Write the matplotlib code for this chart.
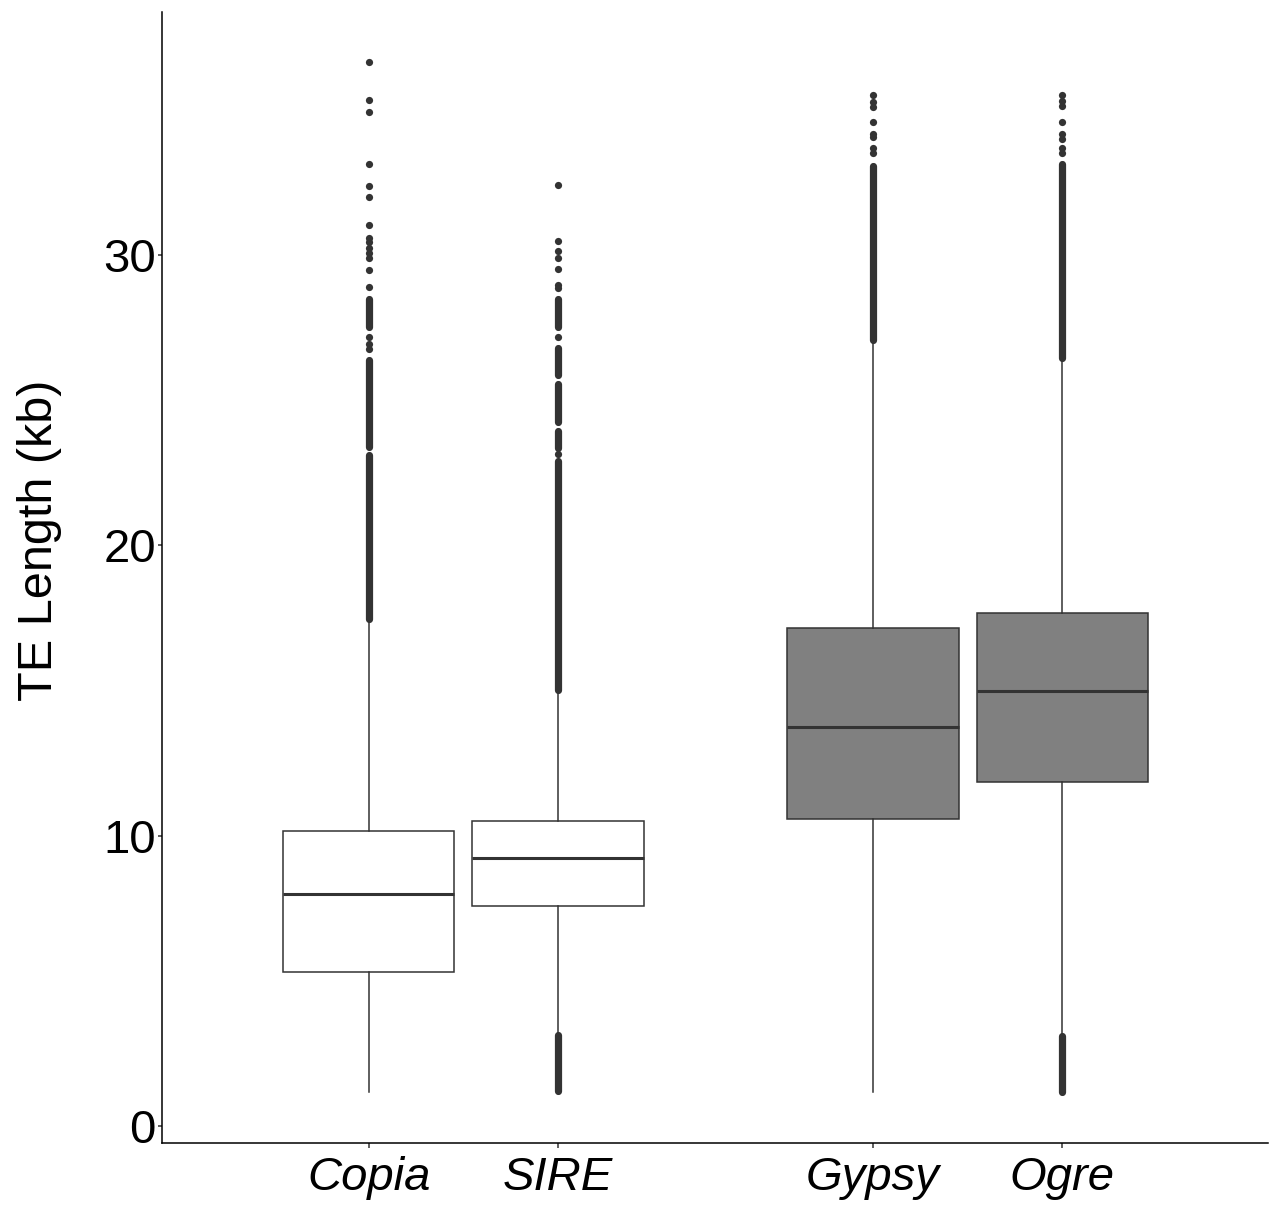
import numpy as np
import matplotlib.pyplot as plt

plt.rcParams['font.family'] = ['Liberation Sans', 'DejaVu Sans']

# familias de TE e posicoes no eixo x
familias = ['Copia', 'SIRE', 'Gypsy', 'Ogre']
posicoes = [1, 2, 3.665, 4.665]
cores = ['white', 'white', '#808080', '#808080']

# estatisticas das caixas (kb)
q1 = [5.32, 7.57, 10.58, 11.85]
mediana = [8.00, 9.24, 13.74, 14.98]
q3 = [10.16, 10.52, 17.15, 17.67]
bigode_inf = [1.16, 3.15, 1.17, 3.10]
bigode_sup = [17.46, 15.02, 27.08, 26.44]

# outliers isolados (kb)
outliers_copia = [36.64, 35.33, 34.92, 33.15, 32.39, 31.99, 31.04, 30.58, 30.45,
                  30.23, 30.06, 29.89, 29.49, 28.91, 27.19, 26.95, 26.75]
outliers_sire = [32.41, 30.49, 30.14, 29.89, 29.52, 28.97, 28.86, 27.19, 23.15]
outliers_gypsy = [35.51, 35.28, 35.09, 34.57, 34.17, 34.05, 33.68, 33.50]
outliers_ogre = [35.51, 35.32, 35.12, 34.57, 34.17, 34.00, 33.68, 33.50]

# trechos densos de outliers (inicio, fim) em kb
trechos_copia = [(17.46, 23.10), (23.40, 26.40), (27.52, 28.47)]
trechos_sire = [(1.20, 3.15), (15.02, 22.90), (23.35, 23.95), (24.25, 25.55),
                (25.85, 26.80), (27.52, 28.47)]
trechos_gypsy = [(27.08, 33.06)]
trechos_ogre = [(1.17, 3.10), (26.44, 33.12)]

outliers = [outliers_copia, outliers_sire, outliers_gypsy, outliers_ogre]
trechos = [trechos_copia, trechos_sire, trechos_gypsy, trechos_ogre]

cor_linha = '#333333'
tam_ponto = 5.2

fig = plt.figure(figsize=(12.73, 12.05), dpi=100)
ax = fig.add_axes([162/1273, 1 - 1143/1205, (1268 - 162)/1273, (1143 - 12)/1205])

stats = []
for i in range(len(familias)):
    stats.append({'med': mediana[i], 'q1': q1[i], 'q3': q3[i],
                  'whislo': bigode_inf[i], 'whishi': bigode_sup[i],
                  'fliers': outliers[i], 'label': familias[i]})

bp = ax.bxp(stats, positions=posicoes, widths=0.905, patch_artist=True,
            showcaps=False,
            boxprops=dict(edgecolor=cor_linha, linewidth=1.1),
            medianprops=dict(color=cor_linha, linewidth=2.2, solid_capstyle='butt'),
            whiskerprops=dict(color=cor_linha, linewidth=1.1),
            flierprops=dict(marker='o', markersize=tam_ponto, markerfacecolor=cor_linha,
                            markeredgecolor=cor_linha, markeredgewidth=0, linestyle='none'))
for caixa, cor in zip(bp['boxes'], cores):
    caixa.set_facecolor(cor)

# trechos densos: pontos sobrepostos formam uma coluna continua
for pos, lista in zip(posicoes, trechos):
    for ini, fim in lista:
        ax.plot([pos, pos], [ini, fim], color=cor_linha, linewidth=tam_ponto,
                solid_capstyle='round', zorder=3)

ax.set_xlim(-0.093, 5.753)
ax.set_ylim(-0.586, 38.37)
ax.set_yticks([0, 10, 20, 30])
ax.set_xticks(posicoes)
ax.set_xticklabels(familias, fontstyle='italic')

ax.spines['top'].set_visible(False)
ax.spines['right'].set_visible(False)
for lado in ['left', 'bottom']:
    ax.spines[lado].set_linewidth(1.1)
    ax.spines[lado].set_color('black')

ax.tick_params(axis='y', length=3, width=1.1, color=cor_linha, labelsize=34,
               pad=1.5, labelcolor='black')
ax.tick_params(axis='x', length=3.5, width=1.1, color=cor_linha, labelsize=34,
               pad=5.5, labelcolor='black')

ax.set_ylabel('TE Length (kb)', fontsize=35)
ax.yaxis.set_label_coords(-0.09, 0.533)

fig.savefig('out.png', dpi=100, facecolor='white')
